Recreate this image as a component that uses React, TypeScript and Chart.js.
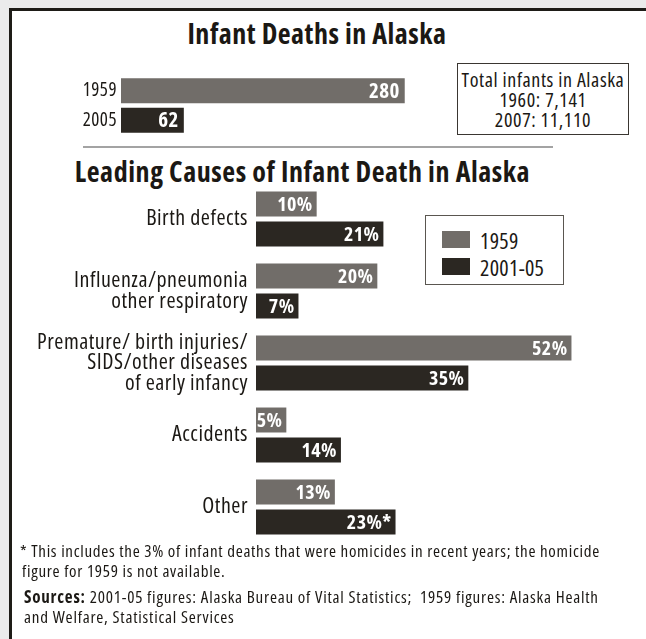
import React, { useEffect, useRef } from "react";
import { Chart, registerables } from "chart.js";
Chart.register(...registerables);

const FONT = '"Open Sans", "Roboto", sans-serif';

// Top chart data
const totalYears = ["1959", "2005"];
const totalDeaths = [280, 62];

// Causes chart data
const causes = [
  ["Birth defects"],
  ["Influenza/pneumonia", "other respiratory"],
  ["Premature/ birth injuries/", "SIDS/other diseases", "of early infancy"],
  ["Accidents"],
  ["Other"],
];
const pct1959 = [10, 20, 52, 5, 13];
const pct2001 = [21, 7, 35, 14, 23];
const marks2001 = ["", "", "", "", "*"];
const seriesNames = ["1959", "2001-05"];

const GRAY = "#716d69";
const DARK = "#2b2722";
const INK = "#1b1814";

const spacingPlugin = {
  id: "letterSpacing",
  beforeDraw(chart: any) {
    (chart.ctx as any).letterSpacing = "0.5px";
  },
};

const valueLabelPlugin = {
  id: "valueLabels",
  afterDatasetsDraw(chart: any, _args: any, opts: any) {
    const ctx = chart.ctx;
    chart.data.datasets.forEach((ds: any, di: number) => {
      const meta = chart.getDatasetMeta(di);
      meta.data.forEach((el: any, i: number) => {
        ctx.save();
        ctx.font = `bold condensed ${opts.size}px ${FONT}`;
        (ctx as any).letterSpacing = "0.4px";
        ctx.fillStyle = "#ffffff";
        ctx.textAlign = "right";
        ctx.textBaseline = "middle";
        ctx.fillText(ds.valueLabels[i], el.x - opts.pad, el.y + 1);
        ctx.restore();
      });
    });
  },
};

const fixAxis = (width: number) => (s: any) => {
  s.width = width;
  s.paddingTop = 0;
  s.paddingBottom = 0;
};

export default function App() {
  const topRef = useRef<HTMLCanvasElement>(null);
  const mainRef = useRef<HTMLCanvasElement>(null);

  useEffect(() => {
    const c1 = new Chart(topRef.current!, {
      type: "bar",
      data: {
        labels: totalYears,
        datasets: [
          {
            data: totalDeaths,
            backgroundColor: [GRAY, DARK],
            barPercentage: 0.85,
            categoryPercentage: 1,
            valueLabels: totalDeaths.map((v) => String(v)),
          } as any,
        ],
      },
      options: {
        responsive: false,
        animation: false,
        indexAxis: "y",
        layout: { padding: 0 },
        plugins: {
          legend: { display: false },
          tooltip: { enabled: false },
          valueLabels: { size: 21, pad: 5 },
        } as any,
        scales: {
          x: { type: "linear", min: 0, max: 300, display: false },
          y: {
            grid: { display: false, drawTicks: false },
            border: { display: false },
            ticks: { color: INK, font: { family: FONT, size: 19, weight: "condensed" }, padding: 4 },
            afterFit: fixAxis(121),
          },
        },
      },
      plugins: [spacingPlugin, valueLabelPlugin],
    } as any);

    const c2 = new Chart(mainRef.current!, {
      type: "bar",
      data: {
        labels: causes,
        datasets: [
          {
            label: seriesNames[0],
            data: pct1959,
            backgroundColor: GRAY,
            barPercentage: 0.833,
            categoryPercentage: 0.833,
            valueLabels: pct1959.map((v) => `${v}%`),
          } as any,
          {
            label: seriesNames[1],
            data: pct2001,
            backgroundColor: DARK,
            barPercentage: 0.833,
            categoryPercentage: 0.833,
            valueLabels: pct2001.map((v, i) => `${v}%${marks2001[i]}`),
          } as any,
        ],
      },
      options: {
        responsive: false,
        animation: false,
        indexAxis: "y",
        layout: { padding: 0 },
        plugins: {
          legend: { display: false },
          tooltip: { enabled: false },
          valueLabels: { size: 20, pad: 4 },
        } as any,
        scales: {
          x: { type: "linear", min: 0, max: 60, display: false },
          y: {
            grid: { display: false, drawTicks: false },
            border: { display: false },
            ticks: {
              color: INK,
              font: { family: FONT, size: 22, weight: "condensed", lineHeight: 0.94 },
              padding: 8,
            },
            afterFit: fixAxis(256),
          },
        },
      },
      plugins: [spacingPlugin, valueLabelPlugin],
    } as any);

    return () => {
      c1.destroy();
      c2.destroy();
    };
  }, []);

  const abs = (o: React.CSSProperties): React.CSSProperties => ({ position: "absolute", ...o });

  return (
    <div
      style={{
        position: "fixed",
        left: 0,
        top: 0,
        width: 646,
        height: 639,
        overflow: "hidden",
        background: "#ebebeb",
        fontFamily: FONT,
        fontStretch: "75%",
        color: INK,
      }}
    >
      <div
        style={abs({
          left: 9,
          top: 8,
          width: 700,
          height: 700,
          background: "#ffffff",
          borderTop: "3px solid #1e1c17",
          borderLeft: "3px solid #1e1c17",
        })}
      />
      <div
        style={abs({
          left: 0,
          top: 19,
          width: 634,
          textAlign: "center",
          fontSize: 28,
          fontWeight: "bold",
          lineHeight: "28px",
          letterSpacing: "0.5px",
          whiteSpace: "nowrap",
        })}
      >
        Infant Deaths in Alaska
      </div>
      <canvas ref={topRef} width={425} height={59} style={abs({ left: 0, top: 76 })} />
      <div
        style={abs({
          left: 457,
          top: 63,
          width: 172,
          height: 72,
          boxSizing: "border-box",
          border: "1px solid #3a3631",
          paddingTop: 6,
          textAlign: "center",
          fontSize: 20,
          lineHeight: "20px",
          letterSpacing: "0.6px",
          whiteSpace: "nowrap",
        })}
      >
        Total infants in Alaska
        <br />
        1960: 7,141
        <br />
        2007: 11,110
      </div>
      <div style={abs({ left: 83, top: 146, width: 470, height: 2, background: "#a3a3a3" })} />
      <div
        style={abs({
          left: 0,
          top: 157,
          width: 605,
          textAlign: "center",
          fontSize: 28,
          fontWeight: "bold",
          lineHeight: "28px",
          letterSpacing: "0.55px",
          whiteSpace: "nowrap",
        })}
      >
        Leading Causes of Infant Death in Alaska
      </div>
      <canvas ref={mainRef} width={620} height={360} style={abs({ left: 0, top: 183 })} />
      <div
        style={abs({
          left: 425,
          top: 215,
          width: 139,
          height: 70,
          boxSizing: "border-box",
          border: "1px solid #5a5650",
          background: "#ffffff",
          letterSpacing: "0.3px",
        })}
      >
        <div style={abs({ left: 16, top: 15, width: 28, height: 17, background: GRAY })} />
        <div style={abs({ left: 54, top: 13, fontSize: 22, lineHeight: "22px" })}>{seriesNames[0]}</div>
        <div style={abs({ left: 16, top: 42, width: 28, height: 17, background: DARK })} />
        <div style={abs({ left: 54, top: 40, fontSize: 22, lineHeight: "22px" })}>{seriesNames[1]}</div>
      </div>
      <div
        style={abs({
          left: 20,
          top: 541,
          width: 620,
          fontSize: 17,
          lineHeight: "20px",
          letterSpacing: "0.7px",
          whiteSpace: "nowrap",
        })}
      >
        * This includes the 3% of infant deaths that were homicides in recent years; the homicide
        <br />
        <span style={{ marginLeft: 2 }}>figure for 1959 is not available.</span>
      </div>
      <div
        style={abs({
          left: 24,
          top: 587,
          width: 620,
          fontSize: 17,
          lineHeight: "20px",
          letterSpacing: "0.78px",
          whiteSpace: "nowrap",
        })}
      >
        <b>Sources:</b> 2001-05 figures: Alaska Bureau of Vital Statistics;&nbsp; 1959 figures: Alaska Health
        <br />
        and Welfare, Statistical Services
      </div>
    </div>
  );
}
